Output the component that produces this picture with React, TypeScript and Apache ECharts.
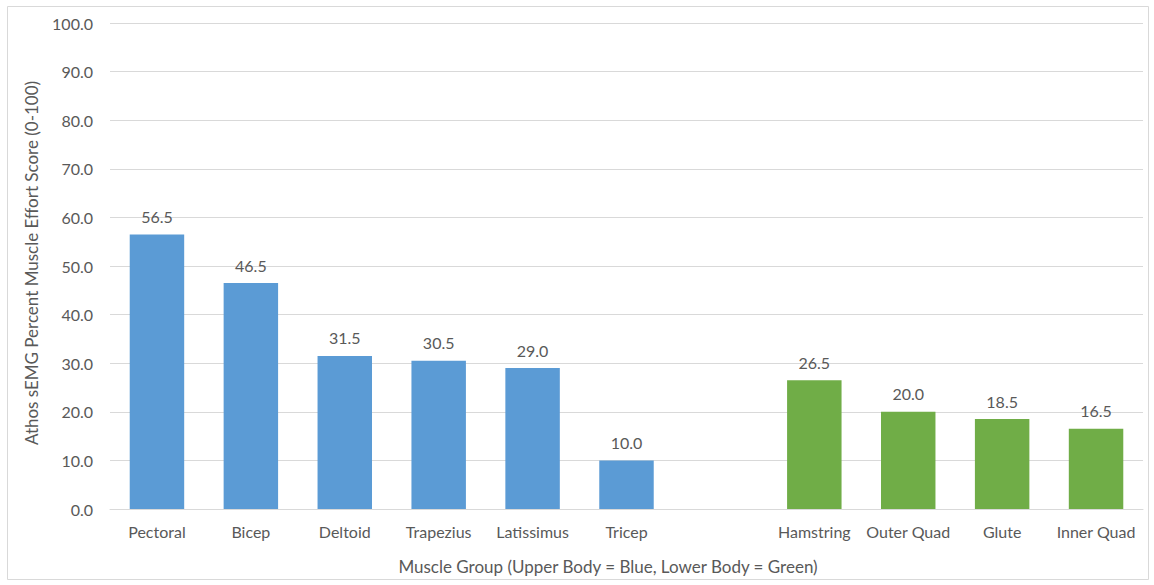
import React, { useEffect, useRef } from "react";
import * as echarts from "echarts";

const categories = ["Pectoral", "Bicep", "Deltoid", "Trapezius", "Latissimus", "Tricep", "", "Hamstring", "Outer Quad", "Glute", "Inner Quad"];
const values: (number | null)[] = [56.5, 46.5, 31.5, 30.5, 29.0, 10.0, null, 26.5, 20.0, 18.5, 16.5];
const groups = ["upper", "upper", "upper", "upper", "upper", "upper", "none", "lower", "lower", "lower", "lower"];
const groupColors: Record<string, string> = { upper: "#5B9BD5", lower: "#70AD47", none: "#5B9BD5" };
const yTicks = { min: 0, max: 100, interval: 10 };
const xTitle = "Muscle Group (Upper Body = Blue, Lower Body = Green)";
const yTitle = "Athos sEMG Percent Muscle Effort Score (0-100)";

const FONT = "Lato, 'Open Sans', sans-serif";
const TEXT = "#595959";

export default function App() {
  const ref = useRef<HTMLDivElement>(null);
  useEffect(() => {
    if (!ref.current) return;
    const chart = echarts.init(ref.current, undefined, { renderer: "svg" });
    chart.setOption({
      animation: false,
      backgroundColor: "#ffffff",
      textStyle: { fontFamily: FONT },
      graphic: [
        {
          type: "rect",
          shape: { x: 7.5, y: 6.5, width: 1141, height: 573 },
          style: { fill: "none", stroke: "#D9D9D9", lineWidth: 1 },
          silent: true,
        },
        {
          type: "text",
          x: 608,
          y: 566,
          style: {
            text: xTitle,
            fill: TEXT,
            font: `17px ${FONT}`,
            textAlign: "center",
            textVerticalAlign: "middle",
          },
          silent: true,
        },
        {
          type: "text",
          x: 31,
          y: 263,
          rotation: Math.PI / 2,
          style: {
            text: yTitle,
            fill: TEXT,
            font: `17px ${FONT}`,
            textAlign: "center",
            textVerticalAlign: "middle",
          },
          silent: true,
        },
      ],
      grid: { left: 110, right: 11, top: 23, bottom: 76, containLabel: false },
      xAxis: {
        type: "category",
        data: categories,
        axisLine: { show: true, lineStyle: { color: "#D9D9D9", width: 1 } },
        axisTick: { show: false },
        axisLabel: { color: TEXT, fontSize: 16, fontFamily: FONT, margin: 14, interval: 0 },
      },
      yAxis: {
        type: "value",
        min: yTicks.min,
        max: yTicks.max,
        interval: yTicks.interval,
        axisLine: { show: false },
        axisTick: { show: false },
        splitLine: { lineStyle: { color: "#D9D9D9", width: 1 } },
        axisLabel: {
          color: TEXT,
          fontSize: 16,
          fontFamily: FONT,
          margin: 17,
          formatter: (v: number) => v.toFixed(1),
        },
      },
      series: [
        {
          type: "bar",
          barWidth: "58%",
          data: values.map((v, i) => ({
            value: v === null ? "-" : v,
            itemStyle: { color: groupColors[groups[i]] },
          })),
          label: {
            show: true,
            position: "top",
            distance: 10,
            color: TEXT,
            fontSize: 16,
            fontFamily: FONT,
            formatter: (p: any) => (typeof p.value === "number" ? p.value.toFixed(1) : ""),
          },
        },
      ],
    });
    return () => chart.dispose();
  }, []);
  return (
    <div
      ref={ref}
      style={{ position: "fixed", left: 0, top: 0, width: 1154, height: 585, background: "#fff" }}
    />
  );
}
